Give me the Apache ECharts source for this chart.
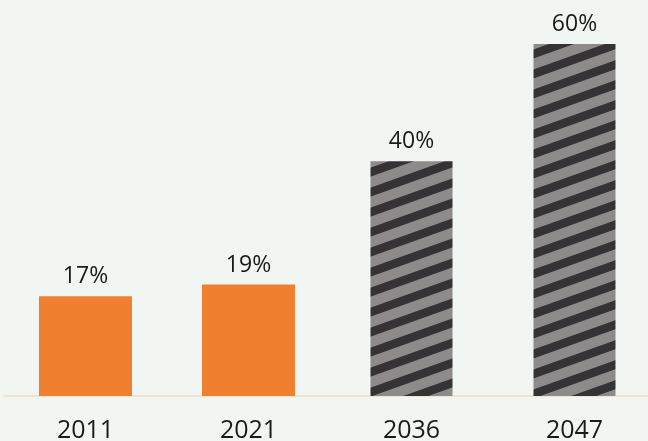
<!DOCTYPE html>
<html>
<head>
<meta charset="utf-8">
<script src="https://cdn.jsdelivr.net/npm/echarts@6/dist/echarts.min.js"></script>
<style>
html,body{margin:0;padding:0;background:#f1f6f2;}
#c{width:648px;height:441px;}
</style>
</head>
<body>
<div id="c"></div>
<script>
const categories = ['2011', '2021', '2036', '2047'];
const actualValues = [17, 19, null, null];
const projectedValues = [null, null, 40, 60];

function makeStripe() {
  const W = 56, H = 20, T = 9;
  const cv = document.createElement('canvas');
  cv.width = W; cv.height = H;
  const ctx = cv.getContext('2d');
  ctx.fillStyle = '#8f8b8b';
  ctx.fillRect(0, 0, W, H);
  ctx.fillStyle = '#353336';
  for (let k = -2; k <= 2; k++) {
    ctx.beginPath();
    ctx.moveTo(0, H + k * H);
    ctx.lineTo(W, k * H);
    ctx.lineTo(W, k * H + T);
    ctx.lineTo(0, H + k * H + T);
    ctx.closePath();
    ctx.fill();
  }
  return cv;
}

const chart = echarts.init(document.getElementById('c'), null, {renderer: 'canvas'});
const font = '"Open Sans", "Noto Sans", sans-serif';
const labelCfg = {
  show: true, position: 'top', distance: 8,
  fontFamily: font, fontSize: 23, color: '#1a1a1a',
  formatter: p => p.value + '%'
};
chart.setOption({
  backgroundColor: '#f1f6f2',
  animation: false,
  grid: {left: 4, width: 652, top: 44, bottom: 45, containLabel: false, outerBoundsMode: 'none'},
  xAxis: [
    {
      type: 'category', data: categories,
      axisLine: {show: true, lineStyle: {color: '#f5dcc6', width: 1.5}},
      axisTick: {show: false},
      axisLabel: {fontFamily: font, fontSize: 25, color: '#1a1a1a', margin: 22}
    },
    {
      type: 'category', data: categories, show: false
    }
  ],
  yAxis: {type: 'value', min: 0, max: 60, show: false, splitLine: {show: false}},
  series: [
    {
      type: 'bar', xAxisIndex: 0, data: actualValues, barWidth: 93,
      itemStyle: {color: '#f08030'},
      label: labelCfg
    },
    {
      type: 'bar', xAxisIndex: 1, data: projectedValues, barWidth: 82,
      itemStyle: {color: {image: makeStripe(), repeat: 'repeat'}},
      label: labelCfg
    }
  ]
});
</script>
</body>
</html>
